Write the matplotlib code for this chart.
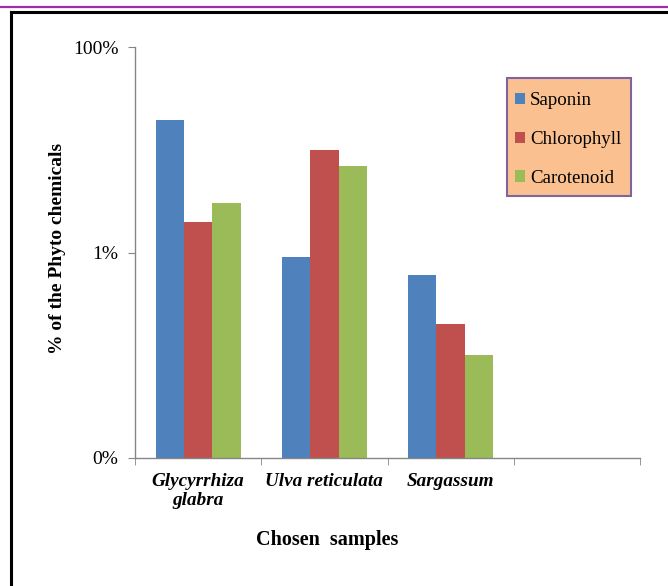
import numpy as np
import matplotlib
matplotlib.use("Agg")
from matplotlib import pyplot as plt
from matplotlib.lines import Line2D
from matplotlib.patches import Patch, Rectangle

# data (percent, log scale)
samples = ["Glycyrrhiza\nglabra", "Ulva reticulata", "Sargassum", ""]
series = ["Saponin", "Chlorophyll", "Carotenoid"]
saponin = [19.4, 0.9, 0.6]
chlorophyll = [2.0, 10.0, 0.2]
carotenoid = [3.0, 6.9, 0.1]
colors = ["#4F81BD", "#C0504D", "#9BBB59"]
yticks = [0.01, 1, 100]
yticklabels = ["0%", "1%", "100%"]

plt.rcParams['font.family'] = ['Liberation Serif', 'DejaVu Serif']

W, H = 668, 586
fig = plt.figure(figsize=(W / 100, H / 100), dpi=100)
ax = fig.add_axes([135 / W, 1 - 458 / H, (640 - 135) / W, (458 - 47) / H])

x = np.arange(3)
w = 0.224
for i, vals in enumerate([saponin, chlorophyll, carotenoid]):
    ax.bar(x + (i - 1) * w, vals, w, color=colors[i], label=series[i], zorder=2)

ax.set_yscale("log")
ax.set_ylim(0.01, 100)
ax.set_yticks(yticks)
ax.set_yticklabels(yticklabels, fontsize=14)
ax.yaxis.set_minor_locator(matplotlib.ticker.NullLocator())
ax.set_xlim(-0.5, 3.5)

# category labels at centres, tick marks at boundaries
ax.set_xticks(np.arange(4))
ax.set_xticklabels(samples, fontsize=13.8, fontweight="bold", fontstyle="italic",
                   linespacing=1.15)
ax.set_xticks(np.arange(-0.5, 4, 1), minor=True)
ax.tick_params(axis="x", which="major", length=0, pad=11)
ax.tick_params(axis="x", which="minor", length=5, color="#868686", direction="out")
ax.tick_params(axis="y", which="major", length=5, color="#868686", pad=7)

for s in ["top", "right"]:
    ax.spines[s].set_visible(False)
for s in ["left", "bottom"]:
    ax.spines[s].set_color("#868686")
    ax.spines[s].set_linewidth(1.0)

fig.text(58 / W, 1 - 248 / H, "% of the Phyto chemicals", rotation=90,
         ha="center", va="center", fontsize=14, fontweight="bold")
fig.text(327 / W, 1 - 540 / H, "Chosen  samples", ha="center", va="center",
         fontsize=14.5, fontweight="bold")

# legend box drawn by hand, entries from a frameless legend
fig.add_artist(Rectangle((507 / W, 1 - 196 / H), (631 - 507) / W, (196 - 78) / H,
                         facecolor="#FAC090", edgecolor="#8064A2", lw=1.5,
                         transform=fig.transFigure, zorder=3))
handles = [Patch(facecolor=c) for c in colors]
leg = fig.legend(handles, series, loc="upper left",
                 bbox_to_anchor=(515 / W, 1 - 92 / H), fontsize=13.6,
                 frameon=False, handlelength=0.55, handleheight=0.55,
                 handletextpad=0.25, labelspacing=1.16, borderpad=0,
                 borderaxespad=0)
leg.set_zorder(4)

# page decorations: purple rule and black frame
fig.add_artist(Line2D([0, 1], [1 - 6.5 / H] * 2, color="#A22BA8", lw=1.6))
fig.add_artist(Line2D([11 / W, 1], [1 - 12 / H] * 2, color="black", lw=2.2))
fig.add_artist(Line2D([11 / W, 11 / W], [0, 1 - 12 / H], color="black", lw=2.2))

fig.savefig("out.png", dpi=100)
